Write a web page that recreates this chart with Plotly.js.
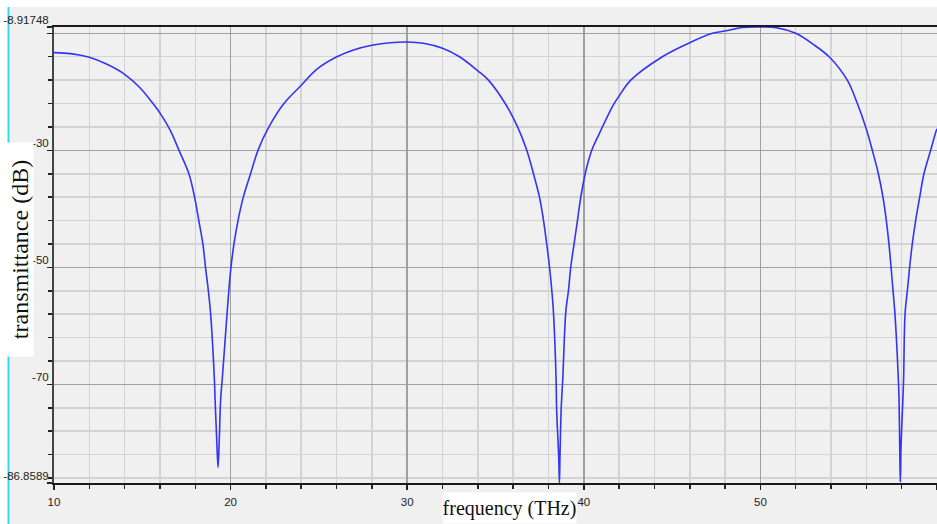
<!DOCTYPE html>
<html>
<head>
<meta charset="utf-8">
<script src="https://cdn.plot.ly/plotly-3.0.1.min.js"></script>
<style>
  html, body { margin: 0; padding: 0; background: #f0f0f0; }
  #chart { width: 937px; height: 524px; }
</style>
</head>
<body>
<div id="chart"></div>
<script>
// Frequency (THz)
const frequency = [
  10.0, 10.94, 12.0, 13.0, 14.0, 14.87, 15.5, 16.04, 16.57, 17.08, 17.64, 17.96, 18.2, 18.43, 18.58, 18.74, 18.87,
  19.08, 19.12, 19.21, 19.29, 19.36, 19.44, 19.53, 19.78, 19.9, 20.02, 20.19, 20.42, 20.72, 21.13, 21.55,
  22.17, 23.02, 23.96, 24.89, 26.02, 26.96, 28.0, 29.04, 30.0, 30.92, 32.0, 32.96, 34.0, 34.6,
  35.55, 36.25, 36.77, 37.15, 37.49, 37.72, 37.9, 38.06, 38.19, 38.28, 38.43, 38.46, 38.58, 38.62,
  38.65, 38.72, 38.81, 38.98, 39.13, 39.26, 39.45, 39.64, 39.83, 40.08, 40.45, 40.9, 41.68, 42.0, 42.66,
  44.45, 46.0, 47.28, 48.0, 49.0, 50.0, 50.9, 52.0, 53.0, 53.89, 54.92, 55.49, 55.96, 56.34, 56.68,
  56.94, 57.13, 57.28, 57.4, 57.51, 57.62, 57.81, 57.85, 57.89, 57.92, 57.96, 58.07, 58.11, 58.19,
  58.32, 58.45, 58.6, 58.79, 59.02, 59.26, 59.64, 59.92, 60.0
];
// Transmittance (dB)
const transmittance = [
  -13.3, -13.47, -14.1, -15.3, -17.0, -19.3, -21.6, -23.8, -26.5, -30.0, -34.0, -38.0, -42.0, -46.0, -50.0, -54.0, -58.0,
  -69.0, -72.4, -79.2, -84.2, -79.2, -72.4, -69.0, -58.7, -54.0, -50.0, -46.0, -42.0, -38.0, -34.0, -30.0,
  -26.0, -22.0, -19.0, -16.1, -14.0, -12.84, -12.05, -11.6, -11.48, -11.7, -12.56, -14.0, -16.4, -18.0,
  -22.0, -26.0, -30.0, -34.0, -38.0, -42.0, -46.0, -50.0, -54.0, -57.6, -69.0, -74.1, -82.5, -86.8589,
  -82.5, -74.1, -69.0, -57.6, -54.0, -50.0, -46.0, -42.0, -38.0, -34.0, -30.0, -27.0, -22.2, -20.7, -18.0,
  -14.0, -11.6, -10.0, -9.6, -9.0, -8.91748, -9.03, -10.0, -11.9, -14.0, -18.0, -22.0, -26.0, -30.0, -34.0,
  -38.0, -42.0, -46.0, -50.0, -54.0, -58.0, -69.0, -72.4, -80.85, -86.7, -80.85, -72.4, -69.0, -58.0,
  -54.0, -50.0, -46.0, -42.0, -38.0, -34.0, -30.0, -27.0, -26.3
];

const xTickVals = [10, 20, 30, 40, 50, 60];
const xTickText = ['10', '20', '30', '40', '50', '60'];
const yTickVals = [-8.91748, -10, -30, -50, -70, -86.8589];
const yTickText = ['-8.91748', '', '-30', '-50', '-70', '-86.8589'];
const xTitle = 'frequency (THz)';
const yTitle = 'transmittance (dB)';

const tickFont = { family: 'Liberation Sans, Arial, sans-serif', size: 11.5, color: '#222' };
const titleFont = { family: 'Liberation Serif, Times New Roman, serif', size: 20, color: '#111' };

const trace = {
  x: frequency,
  y: transmittance,
  type: 'scatter',
  mode: 'lines',
  line: { color: '#3434f4', width: 1.6, shape: 'spline', smoothing: 1.0 },
  hoverinfo: 'x+y'
};

const W = 883, H = 456; // plot area size in px
const layout = {
  width: 937,
  height: 524,
  margin: { l: 54, r: 0, t: 27, b: 41, pad: 0 },
  paper_bgcolor: '#f0f0f0',
  plot_bgcolor: '#f0f0f0',
  showlegend: false,
  xaxis: {
    range: [10, 60],
    tickmode: 'array',
    tickvals: xTickVals,
    ticktext: xTickText,
    tickfont: tickFont,
    ticks: 'outside',
    ticklen: 5,
    tickwidth: 1.5,
    tickcolor: '#222',
    ticklabelstandoff: 2,
    showgrid: true,
    gridcolor: '#a0a0a0',
    gridwidth: 1.5,
    zeroline: false,
    showline: true,
    linecolor: '#1a1a1a',
    linewidth: 2,
    mirror: true,
    minor: { tickmode: 'linear', tick0: 10, dtick: 2, showgrid: true, gridcolor: '#d3d3d3', gridwidth: 1.5, ticks: 'outside', ticklen: 4, tickcolor: '#222' },
    fixedrange: true
  },
  yaxis: {
    range: [-86.8589, -8.91748],
    tickmode: 'array',
    tickvals: yTickVals,
    ticktext: yTickText,
    tickfont: tickFont,
    ticks: 'outside',
    ticklen: 5,
    tickwidth: 1.5,
    tickcolor: '#222',
    ticklabelshift: -7,
    ticklabelstandoff: -4,
    showgrid: true,
    gridcolor: '#a0a0a0',
    gridwidth: 1.5,
    zeroline: false,
    showline: true,
    linecolor: '#444',
    linewidth: 2,
    minor: { tickmode: 'linear', tick0: -10, dtick: 4, showgrid: true, gridcolor: '#d3d3d3', gridwidth: 1.5, ticks: 'outside', ticklen: 4, tickcolor: '#222' },
    fixedrange: true
  },
  shapes: [
    // white strip at top
    { type: 'rect', xref: 'paper', yref: 'paper', x0: -54 / W, x1: 1.01, y0: (483 - 7) / H, y1: 1.08, fillcolor: '#ffffff', line: { width: 0 }, layer: 'below' },
    // white strip at left
    { type: 'rect', xref: 'paper', yref: 'paper', x0: -54 / W, x1: (8 - 54) / W, y0: -0.1, y1: 1.08, fillcolor: '#ffffff', line: { width: 0 }, layer: 'below' },
    // cyan edge line
    { type: 'line', xref: 'paper', yref: 'paper', x0: (8.5 - 54) / W, x1: (8.5 - 54) / W, y0: -0.1, y1: (483 - 7) / H, line: { color: '#3ad8ee', width: 2 }, layer: 'below' }
  ],
  annotations: [
    {
      text: xTitle, xref: 'paper', yref: 'paper',
      x: (509 - 54) / W, y: (483 - 508) / H, xanchor: 'center', yanchor: 'middle',
      showarrow: false, font: titleFont, bgcolor: '#ffffff',
      width: 133, height: 30, borderpad: 0
    },
    {
      text: yTitle, xref: 'paper', yref: 'paper',
      x: (20 - 54) / W, y: (483 - 250) / H, xanchor: 'center', yanchor: 'middle',
      showarrow: false, textangle: -90, font: Object.assign({}, titleFont, { size: 24 }), bgcolor: '#ffffff',
      width: 213, height: 26, borderpad: 0
    }
  ]
};

Plotly.newPlot('chart', [trace], layout, { displayModeBar: false, staticPlot: true });
</script>
</body>
</html>
